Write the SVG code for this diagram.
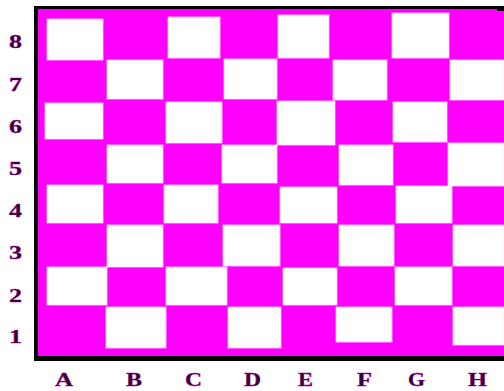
<svg xmlns="http://www.w3.org/2000/svg" width="504" height="391" viewBox="0 0 504 391">
<style>
.w{fill:#ffffff;stroke:#ffd6ff;stroke-width:0.8}
.lbl{font-family:"Liberation Serif","Times New Roman",serif;font-weight:bold;font-size:18px;fill:#2a002a;stroke:#b000b0;stroke-width:0.4}
</style>
<rect x="0" y="0" width="504" height="391" fill="#ffffff"/>
<g id="board">
<rect x="38" y="9" width="466" height="347" fill="#ff00ff"/>
<g id="white-squares">
<rect class="w" x="47" y="19" width="56" height="41"/>
<rect class="w" x="168" y="17" width="52" height="41"/>
<rect class="w" x="278" y="15" width="51" height="43"/>
<rect class="w" x="392" y="13" width="57" height="45"/>
<rect class="w" x="107" y="60" width="56" height="39"/>
<rect class="w" x="224" y="59" width="53" height="40"/>
<rect class="w" x="333" y="60" width="54" height="40"/>
<rect class="w" x="450" y="60" width="54" height="40"/>
<rect class="w" x="45" y="103" width="58" height="36"/>
<rect class="w" x="166" y="102" width="56" height="41"/>
<rect class="w" x="277" y="101" width="58" height="44"/>
<rect class="w" x="393" y="102" width="54" height="40"/>
<rect class="w" x="107" y="145" width="56" height="38"/>
<rect class="w" x="222" y="145" width="55" height="38"/>
<rect class="w" x="339" y="145" width="54" height="40"/>
<rect class="w" x="448" y="143" width="56" height="43"/>
<rect class="w" x="47" y="185" width="56" height="38"/>
<rect class="w" x="164" y="185" width="54" height="38"/>
<rect class="w" x="280" y="187" width="57" height="36"/>
<rect class="w" x="396" y="186" width="56" height="37"/>
<rect class="w" x="107" y="225" width="56" height="42"/>
<rect class="w" x="223" y="225" width="57" height="41"/>
<rect class="w" x="339" y="225" width="55" height="41"/>
<rect class="w" x="453" y="225" width="51" height="41"/>
<rect class="w" x="47" y="267" width="60" height="38"/>
<rect class="w" x="166" y="267" width="61" height="38"/>
<rect class="w" x="283" y="268" width="54" height="37"/>
<rect class="w" x="395" y="267" width="57" height="38"/>
<rect class="w" x="106" y="307" width="60" height="41"/>
<rect class="w" x="228" y="307" width="53" height="41"/>
<rect class="w" x="336" y="307" width="56" height="35"/>
<rect class="w" x="453" y="307" width="51" height="38"/>
</g>
<g id="border" fill="#000000">
<rect x="34" y="6" width="470" height="3"/>
<rect x="497" y="6" width="7" height="5"/>
<rect x="34" y="6" width="4" height="355"/>
<rect x="34" y="356" width="470" height="5"/>
</g>
</g>
<g id="rank-labels">
<text class="lbl" x="9" y="48" textLength="13" lengthAdjust="spacingAndGlyphs">8</text>
<text class="lbl" x="9" y="91" textLength="13" lengthAdjust="spacingAndGlyphs">7</text>
<text class="lbl" x="9" y="133" textLength="13" lengthAdjust="spacingAndGlyphs">6</text>
<text class="lbl" x="9" y="175" textLength="13" lengthAdjust="spacingAndGlyphs">5</text>
<text class="lbl" x="9" y="217" textLength="13" lengthAdjust="spacingAndGlyphs">4</text>
<text class="lbl" x="9" y="259" textLength="13" lengthAdjust="spacingAndGlyphs">3</text>
<text class="lbl" x="9" y="302" textLength="13" lengthAdjust="spacingAndGlyphs">2</text>
<text class="lbl" x="9" y="343" textLength="13" lengthAdjust="spacingAndGlyphs">1</text>
</g>
<g id="file-labels">
<text class="lbl" x="55" y="386" textLength="18" lengthAdjust="spacingAndGlyphs">A</text>
<text class="lbl" x="126" y="386" textLength="16" lengthAdjust="spacingAndGlyphs">B</text>
<text class="lbl" x="185" y="386" textLength="17" lengthAdjust="spacingAndGlyphs">C</text>
<text class="lbl" x="244" y="386" textLength="17" lengthAdjust="spacingAndGlyphs">D</text>
<text class="lbl" x="298" y="386" textLength="15" lengthAdjust="spacingAndGlyphs">E</text>
<text class="lbl" x="357" y="386" textLength="15" lengthAdjust="spacingAndGlyphs">F</text>
<text class="lbl" x="408" y="386" textLength="17" lengthAdjust="spacingAndGlyphs">G</text>
<text class="lbl" x="468" y="386" textLength="19" lengthAdjust="spacingAndGlyphs">H</text>
</g>
</svg>
